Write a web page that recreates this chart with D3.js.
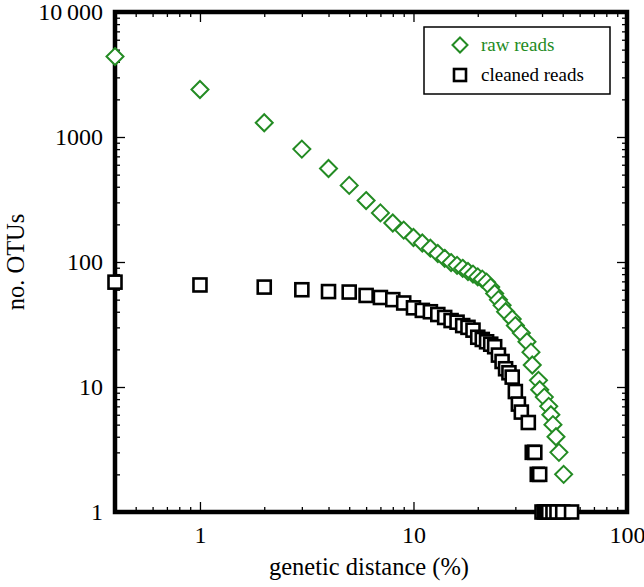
<!DOCTYPE html>
<html>
<head>
<meta charset="utf-8">
<script src="https://cdn.jsdelivr.net/npm/d3@7"></script>
<style>
  body { margin: 0; background: #fff; }
  text { font-family: 'Liberation Serif', 'DejaVu Serif', serif; }
</style>
</head>
<body>
<svg id="myGraph" width="644" height="587"></svg>
<script>
// raw reads (green diamonds)
var rawX = [0.4, 1, 2, 3, 4, 5, 6, 7, 8, 9, 10, 11, 12, 13, 14, 15, 16, 17, 18, 19, 20, 21, 22, 23, 24, 25, 26, 27, 29, 30, 32, 34, 35.5, 36, 38.5, 39, 41, 43, 44, 45, 46.5, 48, 50.5];
var rawY = [4400, 2400, 1300, 800, 560, 410, 310, 247, 205, 180, 157, 142, 129, 117, 107, 99, 94, 89, 84, 80, 76, 73, 69, 63, 56, 50, 45, 40, 35, 31, 27, 23, 19, 15, 11.3, 9.5, 8.3, 7, 6, 5, 4, 3, 2];
// cleaned reads (black squares)
var cleanX = [0.4, 1, 2, 3, 4, 5, 6, 7, 8, 9, 10, 11, 12, 13, 14, 15, 16, 17, 18, 19, 20, 21, 22, 23, 24, 25, 26, 27, 28, 29, 30, 31, 32, 34.5, 36, 37, 38, 39, 40, 41, 42, 43, 45, 47, 50, 55];
var cleanY = [69, 65.5, 63, 60, 58, 57.5, 54, 52, 50, 47, 43, 41, 40, 38, 36, 34, 33, 31, 30, 28.5, 25, 24, 23, 22, 21, 18, 16, 14, 13, 12, 9.2, 7.3, 6.3, 5.2, 3, 3, 2, 2, 1, 1, 1, 1, 1, 1, 1, 1];

var xMajor = [1, 10, 100];
var yMajor = [1, 10, 100, 1000, 10000];
var yLabels = ['1', '10', '100', '1000', '10\u2009000'];
var seriesNames = ['raw reads', 'cleaned reads'];

var svgWidth = 644;
var svgHeight = 587;
var margin = { top: 12, right: 17, bottom: 75, left: 115 };
var width = svgWidth - margin.left - margin.right;
var height = svgHeight - margin.top - margin.bottom;
var green = '#238b23';

var svg = d3.select('#myGraph');
var g = svg.append('g').attr('transform', 'translate(' + margin.left + ',' + margin.top + ')');

var x = d3.scaleLog().domain([0.4, 100]).range([0, width]);
var y = d3.scaleLog().domain([1, 10000]).range([height, 0]);

// minor tick positions
var xMinor = [];
[0.1, 1, 10].forEach(function(b) {
  for (var k = 2; k <= 9; k++) {
    var v = b * k;
    if (v > 0.4 && v < 100) xMinor.push(v);
  }
});
var yMinor = [];
[1, 10, 100, 1000].forEach(function(b) {
  for (var k = 2; k <= 9; k++) yMinor.push(b * k);
});

function styleAxis(sel) {
  sel.attr('font-family', null);
  sel.select('.domain').remove();
  sel.selectAll('line').attr('stroke', '#000').attr('stroke-width', 1.3);
}

// bottom
g.append('g').attr('transform', 'translate(0,' + height + ')')
  .call(d3.axisBottom(x).tickValues(xMajor).tickSize(-10).tickPadding(14).tickFormat(d3.format('d')))
  .call(styleAxis)
  .selectAll('text').attr('font-size', 24).attr('fill', '#000');
g.append('g').attr('transform', 'translate(0,' + height + ')')
  .call(d3.axisBottom(x).tickValues(xMinor).tickSize(-5).tickFormat(''))
  .call(styleAxis);
// top
g.append('g')
  .call(d3.axisTop(x).tickValues(xMajor).tickSize(-10).tickFormat(''))
  .call(styleAxis);
g.append('g')
  .call(d3.axisTop(x).tickValues(xMinor).tickSize(-5).tickFormat(''))
  .call(styleAxis);
// left
g.append('g')
  .call(d3.axisLeft(y).tickValues(yMajor).tickSize(-10).tickPadding(12).tickFormat(function(d, i) { return yLabels[i]; }))
  .call(styleAxis)
  .selectAll('text').attr('font-size', 24).attr('fill', '#000');
g.append('g')
  .call(d3.axisLeft(y).tickValues(yMinor).tickSize(-5).tickFormat(''))
  .call(styleAxis);
// right
g.append('g').attr('transform', 'translate(' + width + ',0)')
  .call(d3.axisRight(y).tickValues(yMajor).tickSize(-10).tickFormat(''))
  .call(styleAxis);
g.append('g').attr('transform', 'translate(' + width + ',0)')
  .call(d3.axisRight(y).tickValues(yMinor).tickSize(-5).tickFormat(''))
  .call(styleAxis);

// frame
g.append('rect')
  .attr('x', 0).attr('y', 0).attr('width', width).attr('height', height)
  .attr('fill', 'none').attr('stroke', '#000').attr('stroke-width', 4.5);

var diamond = 'M0,-8.5L8.5,0L0,8.5L-8.5,0Z';

// raw reads
g.selectAll('.raw')
  .data(rawX)
  .enter()
  .append('path')
  .attr('class', 'raw')
  .attr('d', diamond)
  .attr('transform', function(d, i) { return 'translate(' + x(d) + ',' + y(rawY[i]) + ')'; })
  .attr('fill', '#fff')
  .attr('stroke', green)
  .attr('stroke-width', 2);

// cleaned reads
g.selectAll('.clean')
  .data(cleanX)
  .enter()
  .append('rect')
  .attr('class', 'clean')
  .attr('x', function(d) { return x(d) - 6.5; })
  .attr('y', function(d, i) { return y(cleanY[i]) - 6.5; })
  .attr('width', 13)
  .attr('height', 13)
  .attr('fill', '#fff')
  .attr('stroke', '#000')
  .attr('stroke-width', 2.6);

// legend
var legend = g.append('g')
  .attr('transform', 'translate(' + (424 - margin.left) + ',' + (27 - margin.top) + ')');
legend.append('rect')
  .attr('width', 186).attr('height', 67)
  .attr('fill', '#fff').attr('stroke', '#000').attr('stroke-width', 1.5);
legend.append('path')
  .attr('d', 'M0,-7.5L7.5,0L0,7.5L-7.5,0Z')
  .attr('transform', 'translate(36,18)')
  .attr('fill', 'none').attr('stroke', green).attr('stroke-width', 2);
legend.append('rect')
  .attr('x', 30).attr('y', 42).attr('width', 12).attr('height', 12)
  .attr('fill', 'none').attr('stroke', '#000').attr('stroke-width', 2.6);
legend.append('text')
  .attr('x', 57).attr('y', 24)
  .attr('font-size', 19).attr('fill', green)
  .text(seriesNames[0]);
legend.append('text')
  .attr('x', 57).attr('y', 54)
  .attr('font-size', 19).attr('fill', '#000')
  .text(seriesNames[1]);

// axis titles
svg.append('text')
  .attr('x', margin.left + width / 2 - 2).attr('y', 575)
  .attr('text-anchor', 'middle').attr('font-size', 24.5)
  .text('genetic distance (%)');
svg.append('text')
  .attr('transform', 'translate(24,262) rotate(-90)')
  .attr('text-anchor', 'middle').attr('font-size', 24.5)
  .text('no. OTUs');
</script>
</body>
</html>
